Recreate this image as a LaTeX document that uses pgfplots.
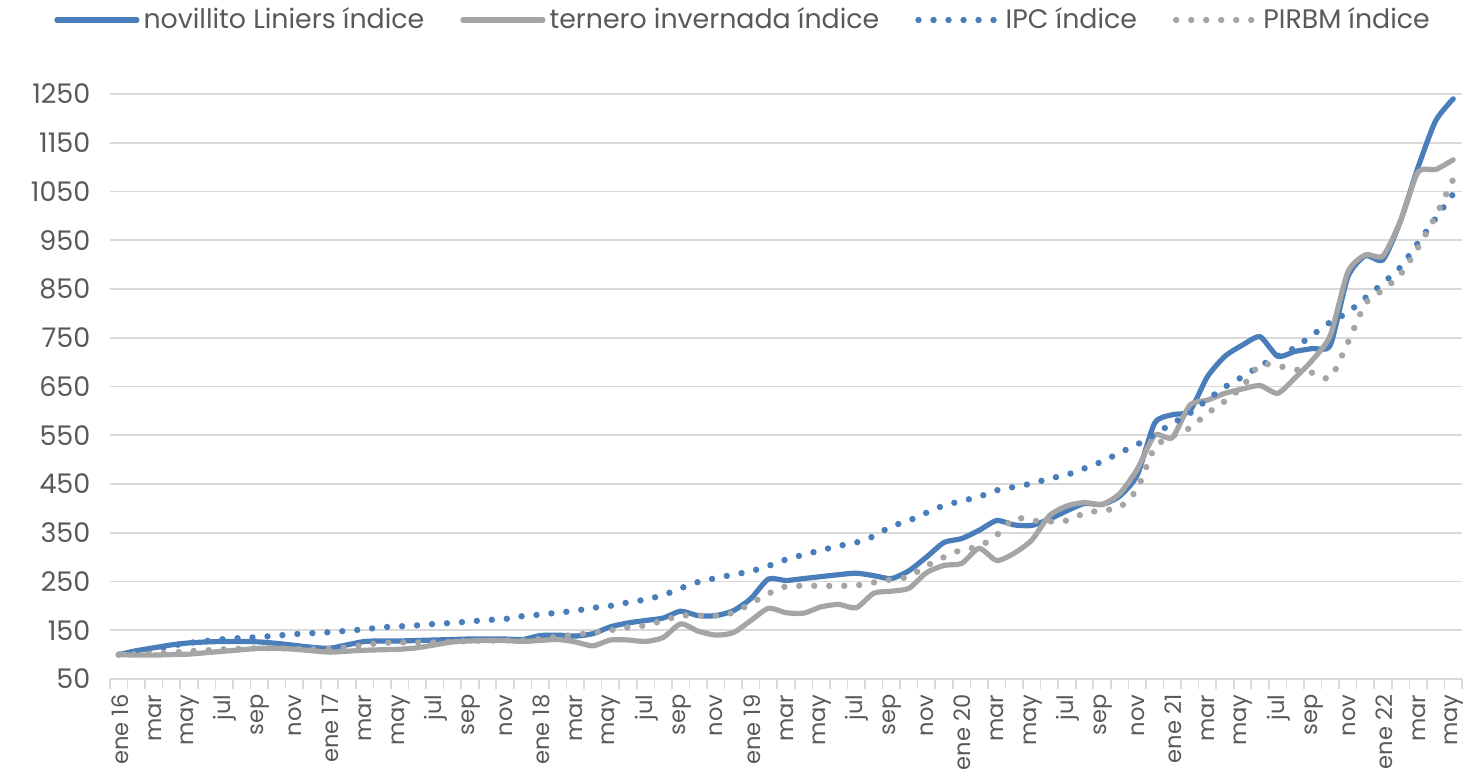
\documentclass[border=0pt]{standalone}
\usepackage{fontspec}
\setmainfont{Poppins}
\usepackage{pgfplots}
\usepackage{pgfplotstable}
\pgfplotsset{compat=1.18}

\definecolor{novblue}{HTML}{4A7EBB}
\definecolor{tergray}{HTML}{A5A5A5}
\definecolor{gridgray}{HTML}{D9D9D9}
\definecolor{txtgray}{HTML}{595959}

% i = months since ene 16; N novillito, T ternero, I IPC, P PIRBM
\pgfplotstableread{
i N T I P
0 100 100 100 100
1 108 99 105 101
2 114 99 110 102
3 120 100 118 104
4 124 101 124 107
5 126 104 128 109
6 127 107 132 111
7 127 110 134 112
8 126 113 136 113
9 123 113 139 113
10 119 111 142 112
11 115 108 144 111
12 113 105 146 112
13 120 107 149 115
14 127 109 152 120
15 128 110 156 124
16 128 111 158 125
17 129 114 160 125
18 130 120 163 125
19 131 126 165 126
20 132 128 168 128
21 132 129 171 129
22 132 129 173 129
23 131 127 179 129
24 139 129 182 132
25 140 131 186 137
26 138 126 190 141
27 143 118 196 145
28 157 130 200 150
29 165 130 207 156
30 170 127 213 160
31 175 135 222 170
32 189 163 236 180
33 180 148 249 180
34 180 140 257 180
35 190 145 264 186
36 215 170 271 205
37 255 195 282 225
38 252 186 295 240
39 256 185 305 241
40 260 198 314 241
41 264 203 323 241
42 267 196 330 242
43 262 226 343 248
44 256 230 363 254
45 272 236 375 260
46 300 268 391 282
47 330 283 406 300
48 338 287 415 315
49 355 318 424 322
50 375 293 437 345
51 366 308 444 380
52 365 335 451 375
53 378 385 461 373
54 395 405 469 375
55 410 412 482 390
56 408 408 496 396
57 425 430 514 402
58 468 480 531 440
59 575 550 552 525
60 592 545 574 548
61 600 612 595 565
62 670 622 623 595
63 712 636 649 620
64 735 645 670 650
65 752 652 692 695
66 712 636 712 692
67 722 668 730 685
68 728 705 756 678
69 735 755 782 668
70 875 885 802 740
71 918 920 832 820
72 910 918 862 848
73 990 990 895 880
74 1100 1090 945 935
75 1195 1095 995 1000
76 1240 1115 1045 1075
}\datatable

\begin{document}
\begin{tikzpicture}
\path[use as bounding box] (0,0) rectangle (736.5pt,384.5pt);
\begin{axis}[
    at={(55pt,45pt)}, anchor=south west,
    scale only axis,
    width=676pt, height=292.5pt,
    xmin=-0.5, xmax=76.5,
    ymin=50, ymax=1250,
    ytick={50,150,...,1250},
    xtick={0,2,...,76},
    xticklabels={ene 16,mar,may,jul,sep,nov,ene 17,mar,may,jul,sep,nov,ene 18,mar,may,jul,sep,nov,ene 19,mar,may,jul,sep,nov,ene 20,mar,may,jul,sep,nov,ene 21,mar,may,jul,sep,nov,ene 22,mar,may},
    minor xtick={-0.5,0.5,...,76.5},
    /pgf/number format/assume math mode=true,
    /pgf/number format/1000 sep={},
    ymajorgrids,
    grid style={gridgray, line width=0.8pt},
    axis x line*=bottom, axis y line*=left,
    x axis line style={draw=gridgray, line width=0.8pt, -},
    y axis line style={draw=none},
    xtick style={draw=none}, ytick style={draw=none},
    minor x tick style={draw=gridgray, line width=0.8pt},
    tick align=outside,
    minor tick length=5pt,
    yticklabel style={font=\fontsize{13.5}{15}\selectfont, text=txtgray, xshift=-2pt},
    xticklabel style={font=\fontsize{11.3}{13}\selectfont, text=txtgray, rotate=90, anchor=east, yshift=-0.5pt},
    legend style={at={(0.469,1.1265)}, anchor=center, draw=none, fill=none,
        font=\fontsize{13.4}{15}\selectfont, text=txtgray,
        legend columns=4,
        /tikz/every even column/.append style={column sep=16pt}},
    legend cell align=left,
    legend image code/.code={\draw[#1] (0pt,0pt) -- (40pt,0pt);},
]
\addplot[novblue, line width=2.6pt, smooth, tension=0.4, line cap=round] table[x=i, y=N] {\datatable};
\addlegendentry{novillito Liniers índice}
\addplot[tergray, line width=2.6pt, smooth, tension=0.4, line cap=round] table[x=i, y=T] {\datatable};
\addlegendentry{ternero invernada índice}
\addplot[novblue, line width=3.2pt, smooth, tension=0.4, line cap=round, dash pattern=on 0pt off 7.5pt] table[x=i, y=I] {\datatable};
\addlegendentry{IPC índice}
\addplot[tergray, line width=3.2pt, smooth, tension=0.4, line cap=round, dash pattern=on 0pt off 7.5pt] table[x=i, y=P] {\datatable};
\addlegendentry{PIRBM índice}
\end{axis}
\end{tikzpicture}
\end{document}
